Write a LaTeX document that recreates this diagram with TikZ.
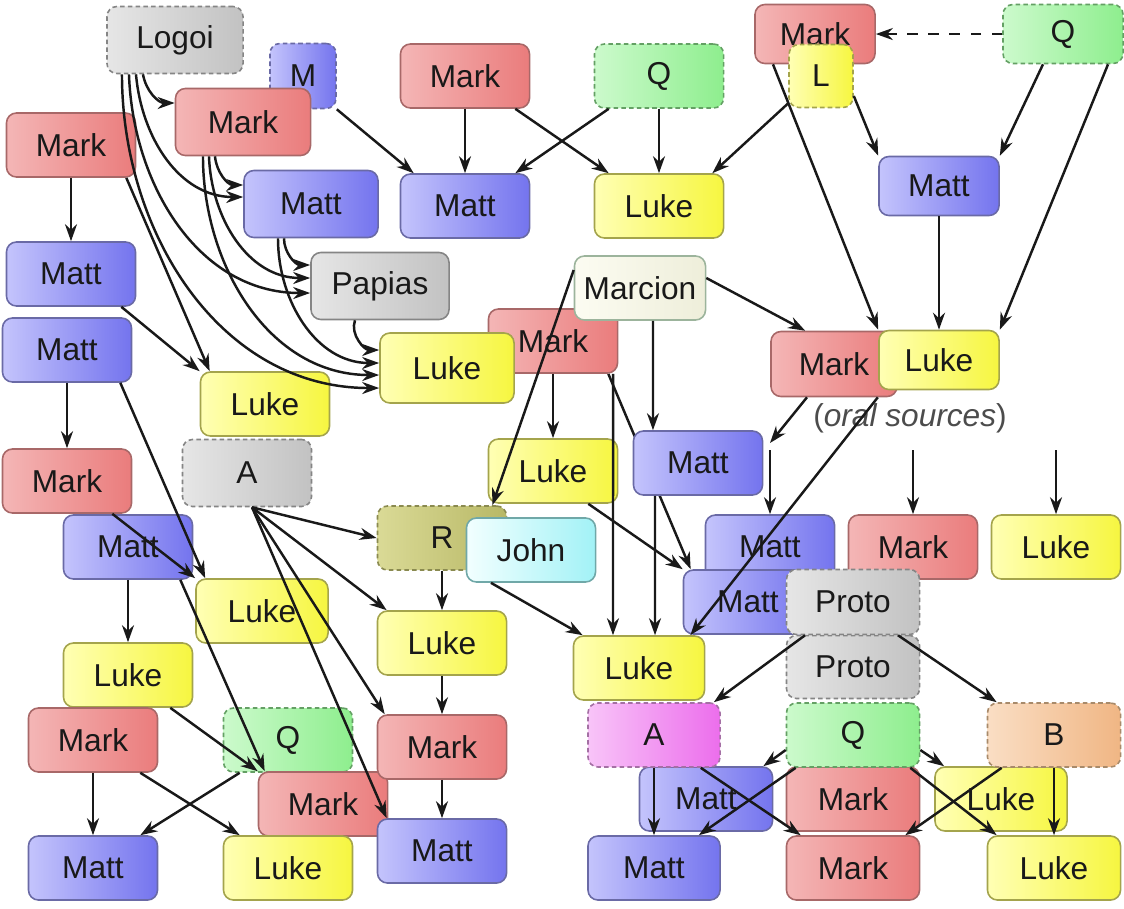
\documentclass[tikz,border=0pt]{standalone}
\usepackage{fontspec}
\setmainfont{Liberation Sans}
\usetikzlibrary{arrows.meta,backgrounds}

\definecolor{markL}{HTML}{F4B6B6}
\definecolor{markR}{HTML}{EA7C7C}
\definecolor{markD}{HTML}{A86868}
\definecolor{mattL}{HTML}{C4C4FC}
\definecolor{mattR}{HTML}{7474EE}
\definecolor{mattD}{HTML}{6A6AA6}
\definecolor{lukeL}{HTML}{FFFFB4}
\definecolor{lukeR}{HTML}{F6F640}
\definecolor{lukeD}{HTML}{A4A44C}
\definecolor{qL}{HTML}{CCFACC}
\definecolor{qR}{HTML}{8EEE8E}
\definecolor{qD}{HTML}{64A064}
\definecolor{greyL}{HTML}{E6E6E6}
\definecolor{greyR}{HTML}{C2C2C2}
\definecolor{greyD}{HTML}{858585}
\definecolor{rL}{HTML}{DADA96}
\definecolor{rR}{HTML}{B8B866}
\definecolor{rD}{HTML}{8A8A50}
\definecolor{johnL}{HTML}{F2FFFF}
\definecolor{johnR}{HTML}{A2F2F6}
\definecolor{johnD}{HTML}{70A8A8}
\definecolor{marcL}{HTML}{FCFCF2}
\definecolor{marcR}{HTML}{EEEEDA}
\definecolor{marcD}{HTML}{9CB49C}
\definecolor{aL}{HTML}{F8C4F8}
\definecolor{aR}{HTML}{EC6EEC}
\definecolor{aD}{HTML}{A470A4}
\definecolor{bL}{HTML}{FADEC4}
\definecolor{bR}{HTML}{F0B684}
\definecolor{bD}{HTML}{A88A6A}

\begin{document}
\begin{tikzpicture}[x=0.01cm,y=-0.01cm,
    gbox/.style={rounded corners=1mm,line width=0.45pt,minimum width=1.29cm,
      minimum height=0.64cm,inner sep=1pt,text=black!90,
      font=\fontsize{9}{10}\selectfont},
    markbox/.style={gbox,draw=markD,left color=markL,right color=markR},
    mattbox/.style={gbox,draw=mattD,left color=mattL,right color=mattR},
    lukebox/.style={gbox,draw=lukeD,left color=lukeL,right color=lukeR},
    qbox/.style={gbox,draw=qD,left color=qL,right color=qR},
    greybox/.style={gbox,draw=greyD,left color=greyL,right color=greyR},
    rbox/.style={gbox,draw=rD,left color=rL,right color=rR},
    johnbox/.style={gbox,draw=johnD,left color=johnL,right color=johnR},
    marcbox/.style={gbox,draw=marcD,left color=marcL,right color=marcR},
    abox/.style={gbox,draw=aD,left color=aL,right color=aR},
    bbox/.style={gbox,draw=bD,left color=bL,right color=bR},
    src/.style={dash pattern=on 1.3pt off 0.9pt},
    trsize/.style={minimum width=1.2cm,minimum height=0.59cm},
    protosize/.style={minimum width=1.33cm},
    arr/.style={draw=black!90,line width=0.7pt,-{Stealth[length=1.7mm,width=1.2mm]}}]
      \useasboundingbox (0,0) rectangle (1124,908);

      \node[greybox,src,minimum width=1.36cm,minimum height=0.67cm] (logoi) at (175,40) {Logoi};
      \node[mattbox,src,minimum width=0.66cm,minimum height=0.65cm] (mm) at (303,76) {M};
      \node[markbox,minimum width=1.35cm,minimum height=0.67cm] (papMark) at (243,122) {Mark};
      \node[markbox] (farMark) at (71,145) {Mark};
      \node[mattbox,minimum width=1.34cm,minimum height=0.67cm] (papMatt) at (311,204) {Matt};
      \node[mattbox] (farMatt) at (71,274) {Matt};
      \node[greybox,minimum width=1.38cm,minimum height=0.67cm] (papias) at (380,286) {Papias};
      \node[mattbox] (augMatt) at (67,350) {Matt};
      \node[lukebox] (farLuke) at (265,404) {Luke};
      \node[markbox] (augMark) at (67,481) {Mark};
      \node[greybox,src,minimum height=0.67cm] (jsA) at (247,473) {A};
      \node[mattbox] (grMatt) at (128,547) {Matt};
      \node[lukebox,minimum width=1.32cm] (augLuke) at (262,611) {Luke};
      \node[lukebox] (grLuke) at (128,675) {Luke};
      \node[markbox] (tsMark) at (93,740) {Mark};
      \node[qbox,src] (tsQ) at (288,740) {Q};
      \node[markbox] (grMark) at (323,804) {Mark};
      \node[mattbox] (tsMatt) at (93,868) {Matt};
      \node[lukebox] (tsLuke) at (288,868) {Luke};
      \node[rbox,src] (jsR) at (442,538) {R};
      \node[lukebox] (jsLuke) at (442,643) {Luke};
      \node[markbox] (jsMark) at (442,747) {Mark};
      \node[mattbox] (jsMatt) at (442,851) {Matt};

      \node[markbox] (fdMark) at (465,76) {Mark};
      \node[qbox,src] (fdQ) at (659,76) {Q};
      \node[mattbox] (fdMatt) at (465,206) {Matt};
      \node[lukebox] (fdLuke) at (659,206) {Luke};

      \node[markbox,trsize] (trMark) at (815,34) {Mark};
      \node[qbox,src,trsize] (trQ) at (1063,34) {Q};
      \node[lukebox,src,minimum width=0.64cm,minimum height=0.63cm] (trL) at (821,76) {L};
      \node[mattbox,trsize] (trMatt) at (939,186) {Matt};

      \node[markbox] (wiMark) at (553,341) {Mark};
      \node[lukebox,minimum width=1.34cm,minimum height=0.7cm] (papLuke) at (447,368) {Luke};
      \node[marcbox,minimum width=1.31cm] (marcion) at (640,288) {Marcion};
      \node[markbox,minimum width=1.26cm,minimum height=0.65cm] (oralMark) at (834,364) {Mark};
      \node[lukebox,trsize] (oralLuke) at (939,360) {Luke};
      \node[text=black!70,font=\fontsize{9}{10}\selectfont] (oral) at (910,418) {(\textit{oral sources})};
      \node[lukebox] (wiLuke) at (553,471) {Luke};
      \node[mattbox] (mpMatt) at (698,463) {Matt};
      \node[johnbox] (john) at (531,550) {John};
      \node[mattbox] (orMatt) at (770,547) {Matt};
      \node[markbox] (orMark) at (913,547) {Mark};
      \node[lukebox] (orLuke) at (1056,547) {Luke};
      \node[mattbox] (wiMatt) at (748,602) {Matt};
      \node[lukebox,minimum width=1.31cm] (mpLuke) at (639,668) {Luke};
      \node[greybox,src,protosize,minimum height=0.63cm] (proto2) at (853,667) {Proto};
      \node[greybox,src,protosize,minimum height=0.65cm] (proto1) at (853,602) {Proto};

      \node[mattbox,protosize] (prMatt2) at (706,799) {Matt};
      \node[markbox,protosize] (prMark2) at (853,799) {Mark};
      \node[lukebox,minimum width=1.32cm] (prLuke2) at (1001,799) {Luke};
      \node[abox,src,minimum width=1.32cm] (prA) at (654,735) {A};
      \node[qbox,src,protosize] (prQ) at (853,735) {Q};
      \node[bbox,src,protosize] (prB) at (1054,735) {B};
      \node[mattbox,minimum width=1.32cm] (prMatt) at (654,868) {Matt};
      \node[markbox,protosize] (prMark) at (853,868) {Mark};
      \node[lukebox,protosize] (prLuke) at (1054,868) {Luke};

      \coordinate (oralA) at (770,443);
      \coordinate (oralB) at (770,450);
      \coordinate (oralC) at (913,450);
      \coordinate (oralD) at (1056,450);

      \draw[arr] ([xshift=-0.32cm]logoi.south) to[out=-80,in=180] ([yshift=0.19cm]papMark.west);
      \draw[arr] ([xshift=-0.39cm]logoi.south) to[out=-85,in=180] ([yshift=0.07cm]papMatt.west);
      \draw[arr] ([xshift=-0.46cm]logoi.south) to[out=-88,in=180] ([yshift=-0.07cm]papias.west);
      \draw[arr] ([xshift=-0.53cm]logoi.south) to[out=-90,in=180] ([yshift=-0.2cm]papLuke.west);
      \draw[arr] ([xshift=-0.28cm]papMark.south) to[out=-85,in=180] ([yshift=0.19cm]papMatt.west);
      \draw[arr] ([xshift=-0.34cm]papMark.south) to[out=-88,in=180] ([yshift=0.08cm]papias.west);
      \draw[arr] ([xshift=-0.4cm]papMark.south) to[out=-90,in=180] ([yshift=-0.07cm]papLuke.west);
      \draw[arr] ([xshift=-0.27cm]papMatt.south) to[out=-90,in=180] ([yshift=0.21cm]papias.west);
      \draw[arr] ([xshift=-0.33cm]papMatt.south) to[out=-90,in=180] ([yshift=0.05cm]papLuke.west);
      \draw[arr] ([xshift=-0.25cm]papias.south) to[out=-110,in=180] ([yshift=0.18cm]papLuke.west);

      \draw[arr] (farMark) -- (farMatt);
      \draw[arr] ([xshift=-0.1cm]farMark.south east) -- ([xshift=0.1cm]farLuke.north west);
      \draw[arr] ([xshift=-0.15cm]farMatt.south east) -- (farLuke.north west);

      \draw[arr] (augMatt) -- (augMark);
      \draw[arr] ([xshift=-0.12cm]augMatt.south east) -- ([xshift=0.1cm]augLuke.north west);
      \draw[arr] ([xshift=-0.2cm]augMark.south east) -- (augLuke.north west);

      \draw[arr] (grMatt) -- (grLuke);
      \draw[arr] ([xshift=-0.13cm]grMatt.south east) -- ([xshift=0.07cm]grMark.north west);
      \draw[arr] ([xshift=-0.23cm]grLuke.south east) -- (grMark.north west);

      \draw[arr] (tsMark) -- (tsMatt);
      \draw[arr] ([xshift=-0.18cm]tsMark.south east) -- ([xshift=0.17cm]tsLuke.north west);
      \draw[arr] ([xshift=0.17cm]tsQ.south west) -- ([xshift=-0.18cm]tsMatt.north east);

      \draw[arr] ([xshift=0.05cm]jsA.south) -- (jsR.west);
      \draw[arr] ([xshift=0.05cm]jsA.south) -- ([xshift=0.1cm]jsLuke.north west);
      \draw[arr] ([xshift=0.05cm]jsA.south) -- ([xshift=0.08cm]jsMark.north west);
      \draw[arr] ([xshift=0.05cm]jsA.south) -- ([xshift=0.1cm]jsMatt.north west);
      \draw[arr] (jsR) -- (jsLuke);
      \draw[arr] (jsLuke) -- (jsMark);
      \draw[arr] (jsMark) -- (jsMatt);

      \draw[arr] (mm.south east) -- ([xshift=0.14cm]fdMatt.north west);
      \draw[arr] (fdMark) -- (fdMatt);
      \draw[arr] ([xshift=-0.15cm]fdMark.south east) -- ([xshift=0.15cm]fdLuke.north west);
      \draw[arr] ([xshift=0.15cm]fdQ.south west) -- ([xshift=-0.15cm]fdMatt.north east);
      \draw[arr] (fdQ) -- (fdLuke);
      \draw[arr] ([yshift=0.05cm]trL.south west) -- ([xshift=-0.12cm]fdLuke.north east);

      \draw[arr,dashed] (trQ) -- (trMark);
      \draw[arr] ([yshift=-0.2cm]trL.east) -- (trMatt.north west);
      \draw[arr] ([xshift=-0.2cm]trQ.south) -- (trMatt.north east);
      \draw[arr] ([xshift=-0.42cm]trMark.south) -- (oralLuke.north west);
      \draw[arr] ([xshift=0.45cm]trQ.south) -- (oralLuke.north east);
      \draw[arr] (trMatt) -- (oralLuke);

      \begin{scope}[on background layer]
        \draw[arr] ([xshift=-0.1cm]wiMark.south east) -- ([xshift=0.08cm]wiMatt.north west);
      \end{scope}
      \draw[arr] ([yshift=0.18cm]marcion.west) -- ([xshift=-0.15cm]jsR.north east);
      \draw[arr] ([xshift=0.13cm]marcion.south) -- ([xshift=-0.45cm]mpMatt.north);
      \draw[arr] ([yshift=0.1cm]marcion.east) -- ([xshift=0.35cm]oralMark.north west);
      \draw[arr] (wiMark) -- (wiLuke);
      \draw[arr] ([xshift=0.6cm]wiMark.south) -- ([xshift=-0.26cm]mpLuke.north);
      \draw[arr] ([xshift=-0.43cm]mpMatt.south) -- ([xshift=0.16cm]mpLuke.north);
      \draw[arr] ([xshift=-0.3cm]wiLuke.south east) -- (wiMatt.north west);
      \draw[arr] ([xshift=-0.4cm]john.south) -- ([xshift=0.1cm]mpLuke.north west);
      \draw[arr] ([xshift=-0.2cm]oralMark.south east) -- ([xshift=-0.15cm]mpLuke.north east);

      \draw[arr] ([xshift=-0.27cm]oralMark.south) -- (oralA);
      \draw[arr] (oralB) -- (orMatt);
      \draw[arr] (oralC) -- (orMark);
      \draw[arr] (oralD) -- (orLuke);

      \draw[arr] ([xshift=-0.48cm]proto1.south) -- ([xshift=-0.07cm]prA.north east);
      \draw[arr] ([xshift=0.45cm]proto1.south) -- ([xshift=0.1cm]prB.north west);
      \draw[arr] (prA) -- (prMatt);
      \draw[arr] ([xshift=-0.2cm]prA.south east) -- ([xshift=0.15cm]prMark.north west);
      \draw[arr] ([xshift=0.1cm]prQ.south west) -- ([xshift=-0.22cm]prMatt.north east);
      \draw[arr] ([xshift=-0.1cm]prQ.south east) -- ([xshift=0.1cm]prLuke.north west);
      \draw[arr] ([xshift=0.15cm]prB.south west) -- ([xshift=-0.15cm]prMark.north east);
      \draw[arr] (prB) -- (prLuke);
      \draw[arr] ([yshift=-0.15cm]prQ.west) -- ([xshift=-0.1cm]prMatt2.north east);
      \draw[arr] ([yshift=-0.15cm]prQ.east) -- ([xshift=0.1cm]prLuke2.north west);
\end{tikzpicture}
\end{document}
